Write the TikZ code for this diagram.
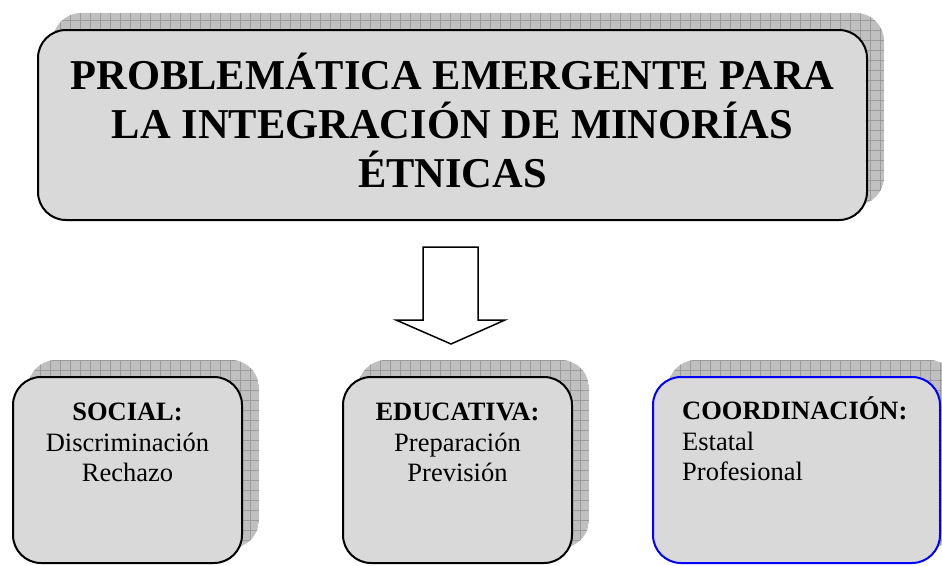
\documentclass[tikz,border=0pt]{standalone}
\usepackage{fontspec}
\setmainfont{Liberation Serif}
\usepackage{xcolor}
\usetikzlibrary{backgrounds}

\definecolor{boxgray}{RGB}{217,217,217}
\definecolor{shadowgray}{RGB}{192,192,192}
\definecolor{gridgray}{RGB}{155,155,155}

\newcommand{\gridshadow}[1]{%
\begin{scope}[on background layer]
\begin{scope}
\clip[rounded corners=28pt] ([shift={(16pt,16pt)}]#1.south west) rectangle ([shift={(16pt,16pt)}]#1.north east);
\fill[shadowgray] ([shift={(16pt,16pt)}]#1.south west) rectangle ([shift={(16pt,16pt)}]#1.north east);
\draw[gridgray, line width=0.6pt, step=10pt] ([shift={(16pt,16pt)}]#1.south west) grid ([shift={(16pt,16pt)}]#1.north east);
\end{scope}
\end{scope}}

\begin{document}
\begin{tikzpicture}[
x=1pt, y=-1pt,
box/.style={draw,
fill=boxgray,
line width=2pt,
rectangle,
rounded corners=28pt},
titlebox/.style={box,
minimum width=829pt,
minimum height=190pt,
align=center,
font=\fontsize{42.5}{49}\selectfont\bfseries},
smallbox/.style={box,
minimum width=229pt,
minimum height=186pt},
boxtext/.style={inner sep=0pt,
font=\fontsize{26.5}{30.5}\selectfont},
blockarrow/.style={draw, fill=white, line width=1.5pt, line join=miter}
]
\useasboundingbox (0,0) rectangle (942,565);

\node[titlebox] (title) at (452.5,125) {PROBLEMÁTICA EMERGENTE PARA\\LA INTEGRACIÓN DE MINORÍAS\\ÉTNICAS\rule[-10pt]{0pt}{10pt}};

\coordinate (arrowtip) at (451,344);
\draw[blockarrow] (arrowtip) -- ++(-55,-24) -- ++(27,0) -- ++(0,-73) -- ++(55,0) -- ++(0,73) -- ++(27,0) -- cycle;

\node[smallbox] (social) at (127.5,470) {};
\node[smallbox] (educativa) at (457.5,470) {};
\node[smallbox, draw=blue, minimum width=287pt] (coordinacion) at (796.5,470) {};

\node[boxtext, align=center, anchor=north] (socialtext) at (127.5,403) {\textbf{SOCIAL:}\\Discriminación\\Rechazo};
\node[boxtext, align=center, anchor=north] (educativatext) at (457.5,403) {\textbf{EDUCATIVA:}\\Preparación\\Previsión};
\node[boxtext, align=left, anchor=north west] (coordinaciontext) at (682,397) {\textbf{COORDINACIÓN:}\\Estatal\\Profesional};

\gridshadow{title}
\gridshadow{social}
\gridshadow{educativa}
\gridshadow{coordinacion}

\end{tikzpicture}
\end{document}
